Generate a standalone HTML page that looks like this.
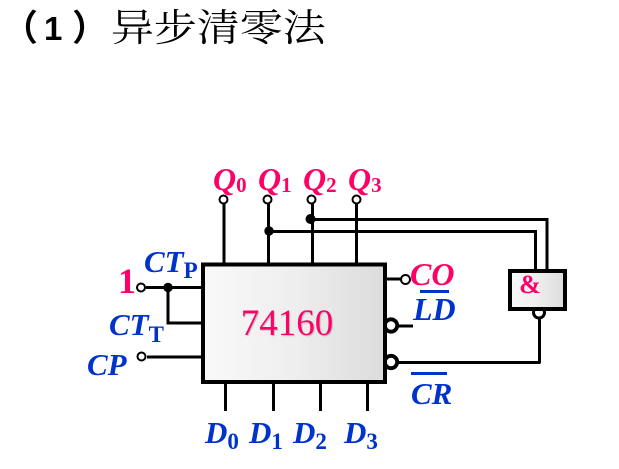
<!DOCTYPE html>
<html><head><meta charset="utf-8"><style>
html,body{margin:0;padding:0;background:#fff;width:619px;height:469px;overflow:hidden}
svg{display:block}
.m{font-family:"Liberation Serif",serif;font-weight:bold;font-style:italic}
.s{font-family:"Liberation Serif",serif;font-weight:bold;font-style:normal}
</style></head><body>
<svg width="619" height="469" viewBox="0 0 619 469" xmlns="http://www.w3.org/2000/svg">
<defs>
<linearGradient id="g" x1="0" y1="0" x2="1" y2="0"><stop offset="0" stop-color="#f9f9f9"/><stop offset="0.5" stop-color="#eeeeee"/><stop offset="1" stop-color="#dcdcdc"/></linearGradient>
</defs>
<text x="2" y="40" font-family="'Noto Sans CJK SC',sans-serif" font-size="36" font-weight="bold" fill="#000">（</text>
<text x="44" y="40" font-family="'Liberation Sans',sans-serif" font-size="33" font-weight="bold" fill="#000">1</text>
<text x="72" y="40" font-family="'Noto Sans CJK SC',sans-serif" font-size="36" font-weight="bold" fill="#000">）</text>
<text transform="translate(111,41) scale(1.13,1)" font-family="'Noto Serif CJK SC',serif" font-size="38" fill="#000">异步清零法</text>

<g fill="none" stroke="#000" stroke-width="3">
<path d="M224 204V263M268.5 204V263M312.5 204V263M356.5 204V263"/>
<path d="M269 231.5H535.5V270M310 219.5H547V270"/>
<path d="M146 287.5H202M168 287.5V323H202M147 357H201"/>
<path d="M387 279H401M398 326H413M396 362.5H540.5M539.5 318V363"/>
<path d="M225.5 384V411M273.5 384V411M320.5 384V411M367.5 384V411"/>
</g>
<g fill="#fff" stroke="#000" stroke-width="3.8">
<circle cx="391" cy="325.5" r="6.2"/><circle cx="391" cy="362" r="6.2"/>
</g>
<circle cx="539" cy="312.5" r="5.5" fill="#fff" stroke="#000" stroke-width="3"/>
<rect x="203" y="264.5" width="182" height="117.5" fill="url(#g)" stroke="#000" stroke-width="4"/>
<rect x="510" y="271" width="55" height="38" fill="url(#g)" stroke="#000" stroke-width="4"/>
<g fill="#fff" stroke="#000" stroke-width="2">
<circle cx="223.5" cy="199.5" r="4"/><circle cx="267.5" cy="199.5" r="4"/><circle cx="311.5" cy="199.5" r="4"/><circle cx="356.5" cy="199.5" r="4"/>
<circle cx="141" cy="287.5" r="4"/><circle cx="141.5" cy="356.5" r="4"/><circle cx="405.5" cy="279.5" r="4.5"/>
</g>
<circle cx="269" cy="231" r="4.7" fill="#000"/><circle cx="310.5" cy="219" r="5" fill="#000"/><circle cx="168" cy="287.5" r="4.7" fill="#000"/>

<text x="287" y="335" text-anchor="middle" font-family="'Liberation Serif',serif" font-size="37" fill="#ff0066" style="text-shadow:1px 1px 1px #bbb">74160</text>
<text x="530" y="293" text-anchor="middle" class="s" font-size="26" fill="#ff0066">&amp;</text>
<text x="118" y="293" class="s" font-size="36" fill="#ff0066">1</text>

<g fill="#ff0066">
<text x="213" y="190" class="m" font-size="32">Q<tspan class="s" font-size="21" dy="2">0</tspan></text>
<text x="258" y="190" class="m" font-size="32">Q<tspan class="s" font-size="21" dy="2">1</tspan></text>
<text x="303" y="190" class="m" font-size="32">Q<tspan class="s" font-size="21" dy="2">2</tspan></text>
<text x="348" y="190" class="m" font-size="32">Q<tspan class="s" font-size="21" dy="2">3</tspan></text>
<text x="410" y="285" class="m" font-size="32">CO</text>
</g>
<g fill="#0033cc">
<text x="144" y="272" class="m" font-size="31">CT<tspan class="s" font-size="23" dy="6">P</tspan></text>
<text x="109" y="335" class="m" font-size="31">CT<tspan class="s" font-size="23" dy="7">T</tspan></text>
<text x="87" y="375" class="m" font-size="31">CP</text>
<text x="413" y="320" class="m" font-size="32">LD</text>
<text x="411" y="404" class="m" font-size="31">CR</text>
<rect x="420" y="290" width="29" height="3"/>
<rect x="411" y="372" width="36" height="3"/>
<text x="205" y="443" class="m" font-size="31">D<tspan class="s" font-size="23" dy="6">0</tspan></text>
<text x="249" y="443" class="m" font-size="31">D<tspan class="s" font-size="23" dy="6">1</tspan></text>
<text x="293" y="443" class="m" font-size="31">D<tspan class="s" font-size="23" dy="6">2</tspan></text>
<text x="344" y="443" class="m" font-size="31">D<tspan class="s" font-size="23" dy="6">3</tspan></text>
</g>
</svg>
</body></html>
